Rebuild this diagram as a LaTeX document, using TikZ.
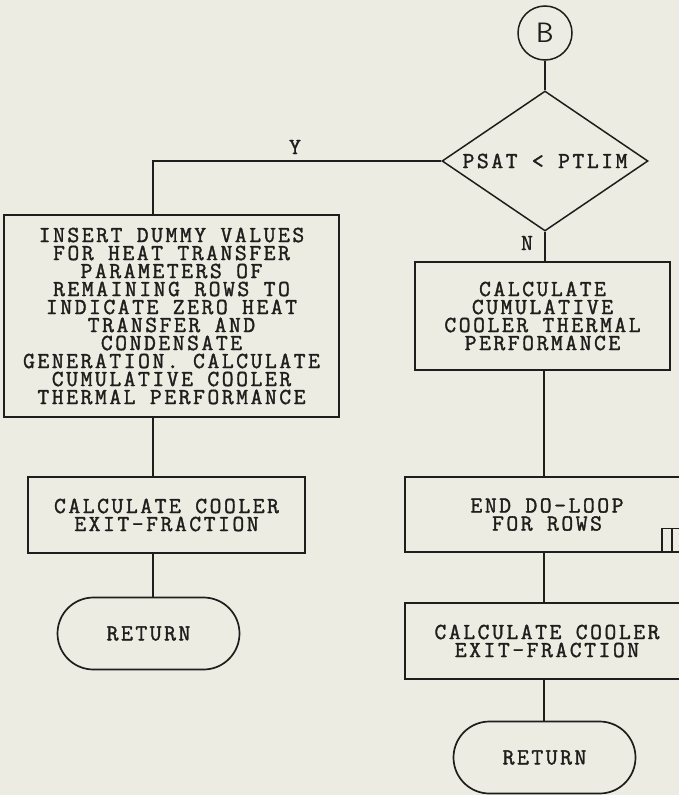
\documentclass[tikz,border=0pt]{standalone}
\usepackage{fontspec}
\setmainfont{Liberation Sans}
\setmonofont{Latin Modern Mono}[LetterSpace=11,FakeBold=1.5]
\usepackage{tikz}
\usetikzlibrary{positioning,shapes.geometric,calc}
\definecolor{paper}{RGB}{236,236,226}
\definecolor{ink}{RGB}{30,30,28}

\begin{document}
\begin{tikzpicture}[
    x=1pt, y=-1pt,
    every node/.style={text=ink, font=\ttfamily\fontsize{23}{18}\selectfont},
    procbox/.style={rectangle, draw=ink, line width=1.7pt, inner sep=0pt, align=center},
    termbox/.style={rectangle, draw=ink, line width=1.7pt, rounded corners=36pt, inner sep=0pt, minimum width=182pt, minimum height=72pt},
    decision/.style={diamond, draw=ink, line width=1.5pt, inner sep=0pt, aspect=1.47, minimum width=206pt, minimum height=140pt},
    connector/.style={circle, draw=ink, line width=1.5pt, minimum size=54pt, inner sep=0pt, font=\sffamily\fontsize{28}{30}\selectfont},
    flow/.style={draw=ink, line width=1.3pt}
]
\useasboundingbox (0,0) rectangle (679,795);
\clip (0,0) rectangle (679,795);
\fill[paper] (0,0) rectangle (679,795);

\node[connector] (conB) at (545,33) {B};
\node[decision] (test) at (545,161) {PSAT < PTLIM};

\node[procbox, minimum width=335pt, minimum height=202pt] (insert) at (171.5,316) {INSERT DUMMY VALUES\\FOR HEAT TRANSFER\\PARAMETERS OF\\REMAINING ROWS TO\\INDICATE ZERO HEAT\\TRANSFER AND\\CONDENSATE\\GENERATION. CALCULATE\\CUMULATIVE COOLER\\THERMAL PERFORMANCE};
\node[procbox, minimum width=277pt, minimum height=76pt] (lexit) at (166.5,515) {CALCULATE COOLER\\EXIT-FRACTION};
\node[termbox] (lret) at (148.5,633.5) {RETURN};

\node[procbox, minimum width=255pt, minimum height=108pt] (cumul) at (542.5,316) {CALCULATE\\CUMULATIVE\\COOLER THERMAL\\PERFORMANCE};
\node[procbox, minimum width=284pt, minimum height=75pt] (endloop) at (547,514.5) {END DO-LOOP\\FOR ROWS};
\node[procbox, minimum width=284pt, minimum height=76pt] (rexit) at (547,641) {CALCULATE COOLER\\EXIT-FRACTION};
\node[termbox] (rret) at (544.5,757.5) {RETURN};

\node[rectangle, draw=ink, line width=1.5pt, minimum width=30pt, minimum height=23pt, inner sep=0pt, anchor=south west] (tab) at (661,552) {};
\draw[flow] ([xshift=11pt]tab.south west) -- ([xshift=11pt]tab.north west);

\coordinate (lx) at (153,0);
\coordinate (rx) at (544,0);

\draw[flow] (conB) -- (test);
\draw[flow] (test.west) -| (lx |- insert.north);
\node at (295,147) {Y};
\draw[flow] (insert.south -| lx) -- (lexit.north -| lx);
\draw[flow] (lexit.south -| lx) -- (lret.north -| lx);

\draw[flow] (test.south) -- (cumul.north -| test.south);
\node at (527,243) {N};
\draw[flow] (cumul.south -| rx) -- (endloop.north -| rx);
\draw[flow] (endloop.south -| rx) -- (rexit.north -| rx);
\draw[flow] (rexit.south -| rx) -- (rret.north -| rx);
\end{tikzpicture}
\end{document}
